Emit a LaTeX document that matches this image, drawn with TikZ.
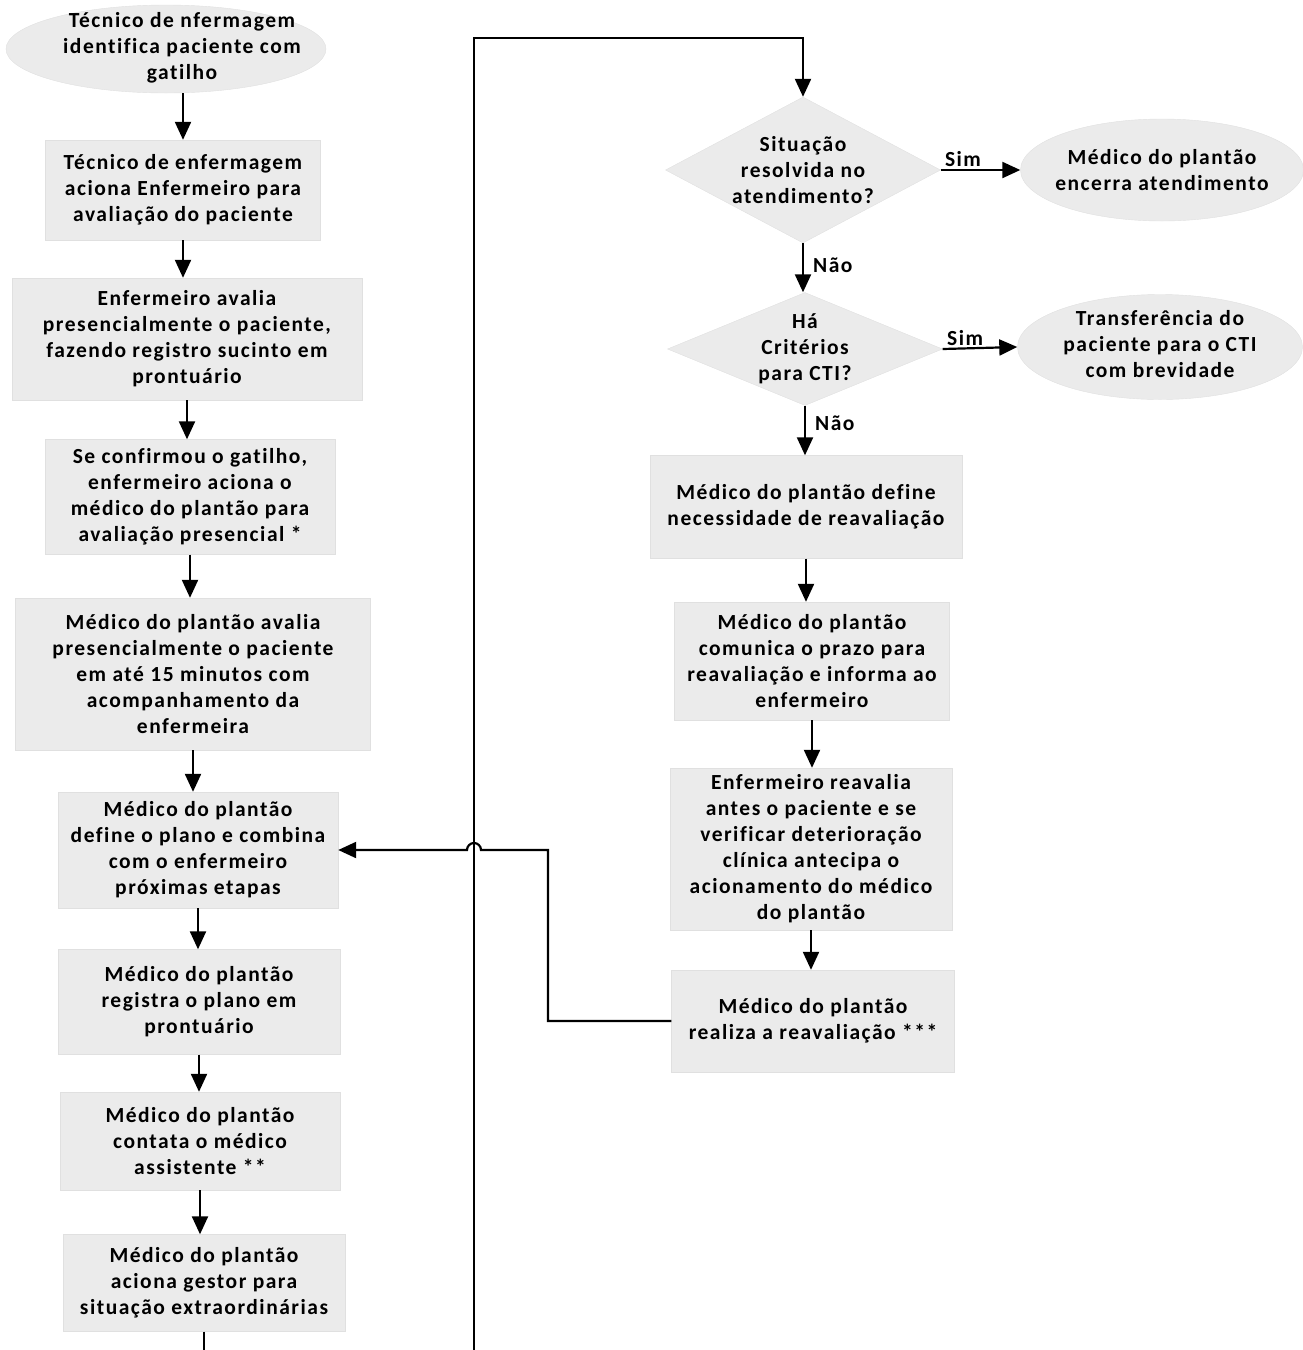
\documentclass[tikz,border=0pt]{standalone}
\usepackage{fontspec}
\setmainfont{Carlito}[LetterSpace=7, Ligatures=NoCommon]
\usetikzlibrary{shapes.geometric,arrows.meta,calc}
\definecolor{fillc}{HTML}{EBEBEB}
\begin{document}
\begin{tikzpicture}[x=1pt,y=-1pt,
  every node/.style={font=\bfseries\fontsize{21.5}{26}\selectfont, align=center, text=black},
  box/.style={rectangle, fill=fillc, draw=black!12, inner sep=0pt},
  oval/.style={ellipse, fill=fillc, draw=black!12, inner sep=0pt},
  dia/.style={diamond, fill=fillc, draw=black!12, inner sep=0pt},
  conn/.style={line width=2.2pt, draw=black},
  arr/.style={conn, -{Triangle[width=16pt,length=18pt]}},
  lbl/.style={font=\bfseries\fontsize{21.5}{26}\selectfont, inner sep=1pt}
]
\useasboundingbox (0,0) rectangle (1303,1350);

% left column
\node[oval, minimum width=320pt, minimum height=88pt] (e0) at (166,49) {};
\node (e0t) at (182,48) {Técnico de nfermagem\\identifica paciente com\\gatilho};
\node[box, minimum width=275pt, minimum height=100pt] (b1) at (183,190) {Técnico de enfermagem\\aciona Enfermeiro para\\avaliação do paciente};
\node[box, minimum width=350pt, minimum height=122pt] (b2) at (187,339) {Enfermeiro avalia\\presencialmente o paciente,\\fazendo registro sucinto em\\prontuário};
\node[box, minimum width=290pt, minimum height=115pt] (b3) at (190,497) {Se confirmou o gatilho,\\enfermeiro aciona o\\médico do plantão para\\avaliação presencial *};
\node[box, minimum width=355pt, minimum height=152pt] (b4) at (193,674) {Médico do plantão avalia\\presencialmente o paciente\\em até 15 minutos com\\acompanhamento da\\enfermeira};
\node[box, minimum width=280pt, minimum height=116pt] (b5) at (198,850) {Médico do plantão\\define o plano e combina\\com o enfermeiro\\próximas etapas};
\node[box, minimum width=282pt, minimum height=105pt] (b6) at (199,1002) {Médico do plantão\\registra o plano em\\prontuário};
\node[box, minimum width=280pt, minimum height=98pt] (b7) at (200,1141) {Médico do plantão\\contata o médico\\assistente **};
\node[box, minimum width=282pt, minimum height=97pt] (b8) at (204,1283) {Médico do plantão\\aciona gestor para\\situação extraordinárias};

% right column
\node[dia, aspect=1.88, minimum width=275pt, minimum height=146pt] (d1) at (803,170) {Situação\\resolvida no\\atendimento?};
\node[oval, minimum width=283pt, minimum height=102pt] (e1) at (1162,170) {};
\node (e1t) at (1162,170) {Médico do plantão\\encerra atendimento};
\node[dia, aspect=2.44, minimum width=275pt, minimum height=113pt] (d2) at (805,349) {Há\\Critérios\\para CTI?};
\node[oval, minimum width=285pt, minimum height=105pt] (e2) at (1160,347) {};
\node (e2t) at (1160,344) {Transferência do\\paciente para o CTI\\com brevidade};
\node[box, minimum width=312pt, minimum height=103pt] (r1) at (806,507) {Médico do plantão define\\necessidade de reavaliação};
\node[box, minimum width=275pt, minimum height=118pt] (r2) at (812,661) {Médico do plantão\\comunica o prazo para\\reavaliação e informa ao\\enfermeiro};
\node[box, minimum width=282pt, minimum height=162pt] (r3) at (811,849) {Enfermeiro reavalia\\antes o paciente e se\\verificar deterioração\\clínica antecipa o\\acionamento do médico\\do plantão};
\node[box, minimum width=283pt, minimum height=102pt] (r4) at (813,1021) {Médico do plantão\\realiza a reavaliação ***};

% left column arrows
\draw[arr] (b1.north |- e0.south) -- (b1.north);
\draw[arr] (b1.south) -- (b1.south |- b2.north);
\draw[arr] (b2.south) -- (b2.south |- b3.north);
\draw[arr] (b3.south) -- (b3.south |- b4.north);
\draw[arr] (b4.south) -- (b4.south |- b5.north);
\draw[arr] (b5.south) -- (b5.south |- b6.north);
\draw[arr] (b6.south) -- (b6.south |- b7.north);
\draw[arr] (b7.south) -- (b7.south |- b8.north);
\coordinate (lb) at (204,1350);
\draw[conn] (b8.south) -- (lb);

% long loop
\coordinate (vb) at (474,1350);
\coordinate (vt) at (474,38);
\draw[arr] (vb) -- (vt) -| (d1.north);

% right column arrows
\draw[arr] (d1.east) -- node[lbl, above=1pt, pos=0.28] {Sim} (e1.west);
\draw[arr] (d1.south) -- node[lbl, right=8pt, pos=0.45] {Não} (d1.south |- d2.north);
\draw[arr] (d2.east) -- node[lbl, above=1pt, pos=0.3] {Sim} (e2.west);
\draw[arr] (d2.south) -- node[lbl, right=8pt, pos=0.35] {Não} (d2.south |- r1.north);
\draw[arr] (r1.south) -- (r1.south |- r2.north);
\draw[arr] (r2.south) -- (r2.south |- r3.north);
\draw[arr] (r3.south) -- (r3.south |- r4.north);

% feedback with hop
\coordinate (kx) at (548,850);
\coordinate (hop) at (474,850);
\draw[arr] (r4.west) -| (kx) -- ([xshift=7pt]hop) arc[start angle=0, end angle=180, radius=7pt] -- (b5.east);
\end{tikzpicture}
\end{document}
